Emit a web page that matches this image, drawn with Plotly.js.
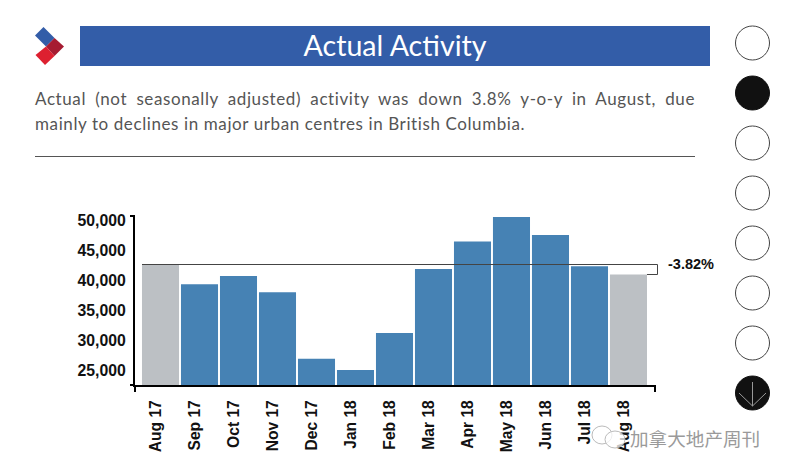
<!DOCTYPE html>
<html><head><meta charset="utf-8">
<script src="https://cdn.plot.ly/plotly-3.0.1.min.js"></script>
<style>
html,body{margin:0;padding:0;background:#fff}
#wrap{position:relative;width:787px;height:472px;overflow:hidden}
#chart{position:absolute;left:0;top:0}
#para{position:absolute;left:35px;top:86px;width:660px;font:17px/25px Lato,"Open Sans",sans-serif;color:#555;letter-spacing:.6px}
#para div{white-space:nowrap}
#para .j{text-align:justify;text-align-last:justify;white-space:normal}
</style></head><body>
<div id="wrap"><div id="chart"></div>
<div id="para"><div class="j">Actual (not seasonally adjusted) activity was down 3.8% y-o-y in August, due</div><div>mainly to declines in major urban centres in British Columbia.</div></div></div>
<script>
const months = ['Aug 17','Sep 17','Oct 17','Nov 17','Dec 17','Jan 18','Feb 18','Mar 18','Apr 18','May 18','Jun 18','Jul 18','Aug 18'];
const activity = [42583,39283,40667,37950,26883,25000,31167,41833,46417,50500,47500,42283,40917];
const barColors = ['#bcc0c4','#4682b4','#4682b4','#4682b4','#4682b4','#4682b4','#4682b4','#4682b4','#4682b4','#4682b4','#4682b4','#4682b4','#bcc0c4'];
const yTicks = [25000,30000,35000,40000,45000,50000];
const yTickLabels = ['25,000','30,000','35,000','40,000','45,000','50,000'];
const changeLabel = '-3.82%';
const titleText = 'Actual Activity';
const watermark = '加拿大地产周刊';

const L=135,R=655,T=216,B=385;
const px=x=>(x-L)/(R-L), py=y=>(B-y)/(B-T);
const pline=(x0,y0,x1,y1,c,w)=>({type:'line',xref:'paper',yref:'paper',x0:px(x0),x1:px(x1),y0:py(y0),y1:py(y1),line:{color:c,width:w},layer:'above'});
const ppoly=(pts,fill)=>({type:'path',xref:'paper',yref:'paper',path:'M'+pts.map(p=>px(p[0])+','+py(p[1])).join('L')+'Z',fillcolor:fill,line:{width:0},layer:'above'});
const circle=(cy,fill)=>({type:'circle',xref:'paper',yref:'paper',x0:px(735.5),x1:px(769.5),y0:py(cy-17),y1:py(cy+17),fillcolor:fill,line:{color:fill==='#111111'?'#111111':'#444',width:1},layer:'above'});

const shapes=[
 {type:'rect',xref:'paper',yref:'paper',x0:px(80),x1:px(710),y0:py(26),y1:py(66),fillcolor:'#335da8',line:{width:0},layer:'below'},
 ppoly([[43.5,27],[35,35.5],[46,46.5],[54.5,38]],'#335da8'),
 ppoly([[54.5,38],[64,46.5],[54.5,56],[46,46.5]],'#a61c32'),
 ppoly([[46,46.5],[54.5,56],[45,65],[35.5,55]],'#dd2030'),
 pline(35,156.5,695,156.5,'#555',1),
 pline(130,T,L,T,'#000',2),
 pline(130,B,L,B,'#000',2),
 pline(L,B,L,B+7,'#000',2),
 pline(R,B,R,B+7,'#000',2),
 {type:'line',xref:'paper',yref:'y',x0:px(142),x1:px(657.5),y0:activity[0],y1:activity[0],line:{color:'#444',width:1},layer:'above'},
 {type:'line',xref:'paper',yref:'y',x0:px(657.5),x1:px(657.5),y0:activity[0],y1:activity[12],line:{color:'#444',width:1},layer:'above'},
 {type:'line',xref:'paper',yref:'y',x0:px(647),x1:px(657.5),y0:activity[12],y1:activity[12],line:{color:'#444',width:1},layer:'above'},
];
[43,143,193,243,293,343].forEach(c=>shapes.push(circle(c,'rgba(255,255,255,0)')));
shapes.push(circle(93,'#111111'),circle(393,'#111111'));
shapes.push(pline(752.5,382,752.5,406,'#999',1),pline(739,393,752.5,406,'#999',1),pline(766,393,752.5,406,'#999',1));
const ell=(x0,y0,x1,y1)=>({type:'circle',xref:'paper',yref:'paper',x0:px(x0),x1:px(x1),y0:py(y0),y1:py(y1),fillcolor:'rgba(255,255,255,.75)',line:{color:'#bbb',width:1},layer:'above'});
shapes.push(ell(592,426,612,444),ell(605,431,625,448));

const data=[{type:'bar',x:months,y:activity,marker:{color:barColors,line:{width:0}},hoverinfo:'none'}];
const layout={
 width:787,height:472,paper_bgcolor:'#fff',plot_bgcolor:'#fff',showlegend:false,bargap:0.05,
 margin:{l:L,r:787-R,t:T,b:472-B,pad:0},
 title:{text:titleText,font:{family:'Lato,"Open Sans",sans-serif',size:28.6,color:'#fff'},x:395/787,xanchor:'center',xref:'container',y:1-46/472,yanchor:'middle',yref:'container'},
 xaxis:{type:'category',categoryorder:'array',categoryarray:months,range:[-0.654,12.68],showline:true,linecolor:'#000',linewidth:2,showgrid:false,zeroline:false,
  ticks:'outside',ticklen:7,tickcolor:'rgba(0,0,0,0)',tickangle:-90,ticklabelshift:-5,tickfont:{family:'"Liberation Sans",Arial,sans-serif',size:15.6,weight:'bold',color:'#111'}},
 yaxis:{range:[22500,50667],tickmode:'array',tickvals:yTicks,ticktext:yTickLabels,showline:true,linecolor:'#000',linewidth:2,showgrid:false,zeroline:false,
  ticks:'outside',ticklen:4,tickcolor:'rgba(0,0,0,0)',tickfont:{family:'"Liberation Sans",Arial,sans-serif',size:15.8,weight:'bold',color:'#111'}},
 shapes:shapes,
 annotations:[
  {text:changeLabel,xref:'paper',yref:'paper',x:px(665.5),y:py(263.5),xanchor:'left',yanchor:'middle',showarrow:false,font:{family:'"Liberation Sans",Arial,sans-serif',size:14.5,weight:'bold',color:'#111'}},
  {text:watermark,xref:'paper',yref:'paper',x:px(628),y:py(437),xanchor:'left',yanchor:'middle',showarrow:false,font:{family:'"Noto Sans CJK SC",sans-serif',size:18.6,color:'#9a9a9a'}}
 ]
};
Plotly.newPlot('chart',data,layout,{staticPlot:true,displayModeBar:false});
</script></body></html>
